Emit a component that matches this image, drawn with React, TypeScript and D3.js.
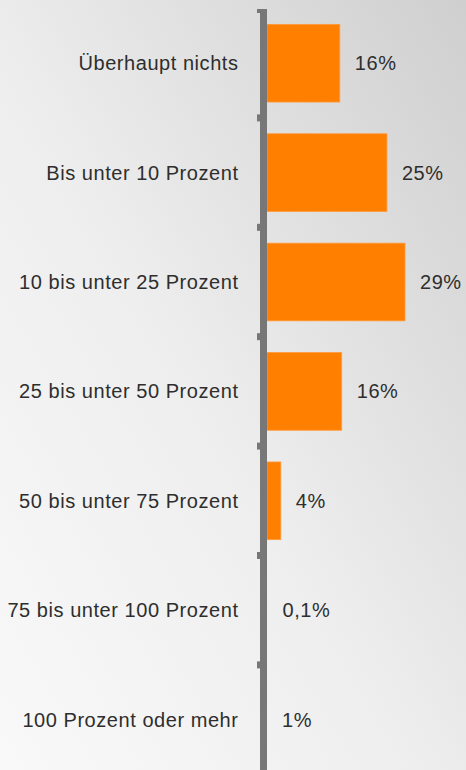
import React, { useEffect, useRef } from 'react';
import * as d3 from 'd3';

const categories = [
  'Überhaupt nichts',
  'Bis unter 10 Prozent',
  '10 bis unter 25 Prozent',
  '25 bis unter 50 Prozent',
  '50 bis unter 75 Prozent',
  '75 bis unter 100 Prozent',
  '100 Prozent oder mehr',
];
// bar lengths (in %)
const values = [15.3, 25.2, 29, 15.7, 2.9, 0.1, 0];
// printed value labels
const valueLabels = ['16%', '25%', '29%', '16%', '4%', '0,1%', '1%'];

const W = 466;
const H = 770;

const App = () => {
  const svgRef = useRef<SVGSVGElement | null>(null);

  useEffect(() => {
    const svg = d3.select(svgRef.current);
    svg.selectAll('*').remove();

    // background gradient, darker top right, lighter bottom left
    const defs = svg.append('defs');
    const bg = defs.append('linearGradient')
      .attr('id', 'bg-grad')
      .attr('x1', '100%').attr('y1', '0%')
      .attr('x2', '0%').attr('y2', '100%');
    bg.append('stop').attr('offset', '0%').attr('stop-color', '#cfcfcf');
    bg.append('stop').attr('offset', '55%').attr('stop-color', '#eeeeee');
    bg.append('stop').attr('offset', '100%').attr('stop-color', '#f9f9f9');

    svg.append('rect')
      .attr('width', W).attr('height', H)
      .attr('fill', 'url(#bg-grad)');

    const axisX = 263.5;
    const top = 8.5;
    const step = 109.4;

    const y = d3.scaleBand<string>()
      .domain(categories)
      .range([top, top + step * categories.length])
      .paddingInner(0.29)
      .paddingOuter(0.145);

    const x = d3.scaleLinear()
      .domain([0, 29])
      .range([267, 405]);

    // bars (the tiny ones disappear next to the axis)
    svg.append('g')
      .selectAll('rect')
      .data(values.filter(v => v >= 0.5))
      .enter()
      .append('rect')
      .attr('x', x(0))
      .attr('y', (d, i) => y(categories[i])!)
      .attr('width', d => x(d) - x(0))
      .attr('height', y.bandwidth())
      .attr('fill', '#ff7f00')
      .attr('stroke', '#ff9a3a')
      .attr('stroke-width', 0.8);

    // axis line
    svg.append('line')
      .attr('x1', axisX).attr('x2', axisX)
      .attr('y1', 9).attr('y2', H + 10)
      .attr('stroke', '#777777')
      .attr('stroke-width', 7);

    // tick stubs on the band boundaries
    const bounds = d3.range(categories.length).map(i => top + step * i);
    svg.append('g')
      .selectAll('rect')
      .data(bounds)
      .enter()
      .append('rect')
      .attr('x', 257)
      .attr('y', d => Math.max(d - 3.5, 9))
      .attr('width', 4)
      .attr('height', d => (d - 3.5 < 9 ? 4 : 7))
      .attr('fill', '#777777');

    const font = '"Liberation Sans", Arial, sans-serif';

    // category labels
    svg.append('g')
      .selectAll('text')
      .data(categories)
      .enter()
      .append('text')
      .attr('x', 238.5)
      .attr('y', d => y(d)! + y.bandwidth() / 2)
      .attr('text-anchor', 'end')
      .attr('dominant-baseline', 'central')
      .attr('font-family', font)
      .attr('font-size', 20)
      .attr('letter-spacing', 0.55)
      .attr('fill', '#2e2e2e')
      .text(d => d);

    // value labels
    svg.append('g')
      .selectAll('text')
      .data(values)
      .enter()
      .append('text')
      .attr('x', d => x(d) + 15)
      .attr('y', (d, i) => y(categories[i])! + y.bandwidth() / 2)
      .attr('dominant-baseline', 'central')
      .attr('font-family', font)
      .attr('font-size', 20)
      .attr('letter-spacing', 0.55)
      .attr('fill', '#2e2e2e')
      .text((d, i) => valueLabels[i]);
  }, []);

  return (
    <svg
      ref={svgRef}
      width={W}
      height={H}
      style={{ position: 'absolute', left: 0, top: 0, display: 'block' }}
    />
  );
};

export default App;
